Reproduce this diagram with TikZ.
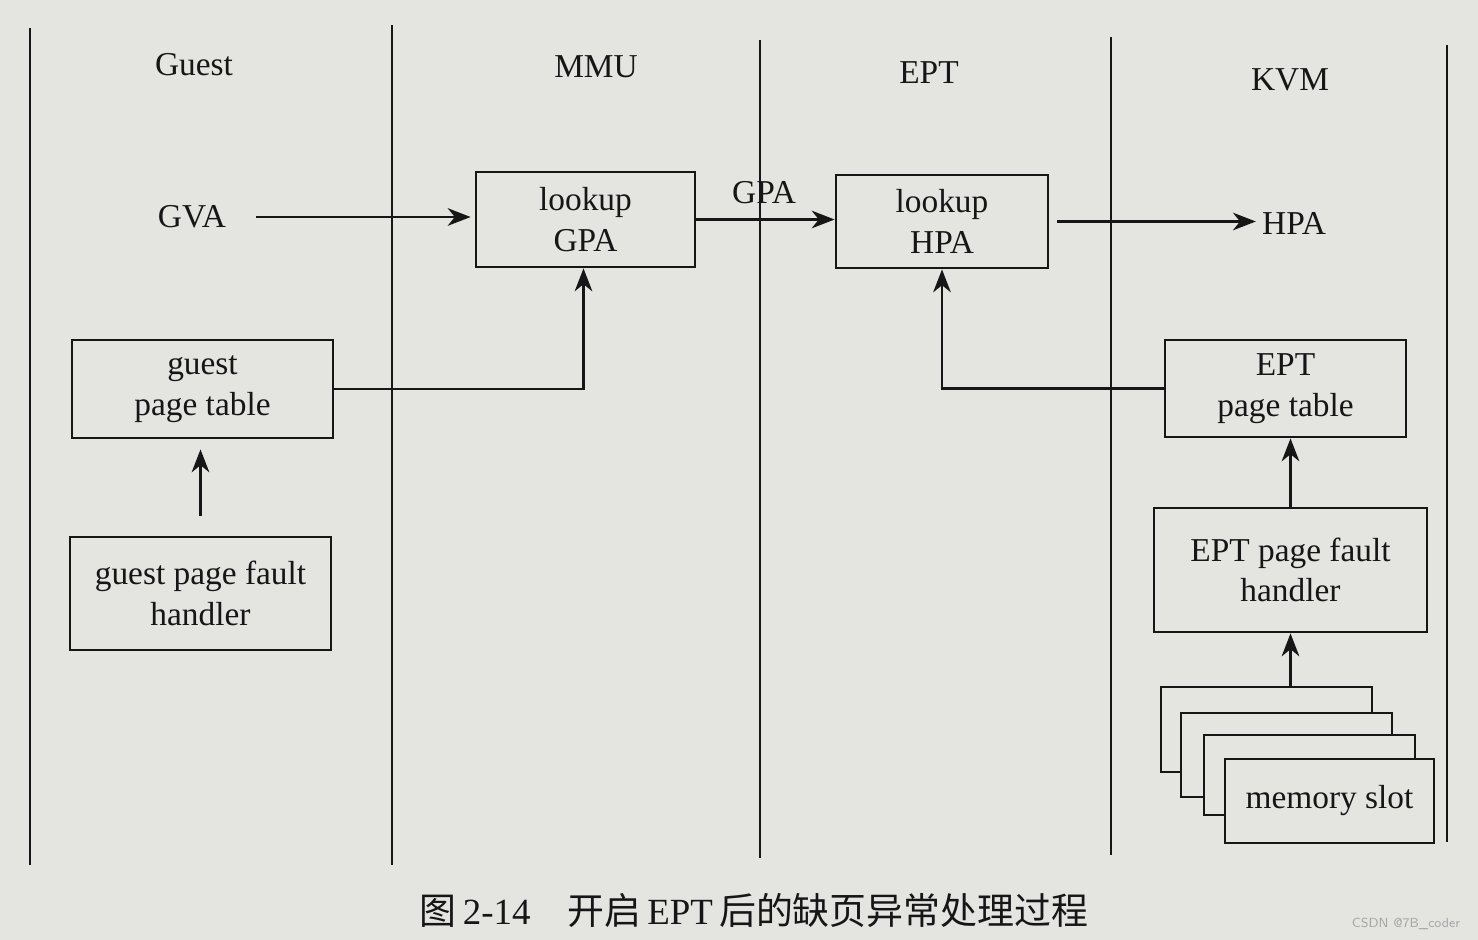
\documentclass[tikz,border=0pt]{standalone}
\usepackage{fontspec}
\setmainfont{Liberation Serif}
\newfontfamily\cjk{Noto Sans CJK SC}
\usetikzlibrary{arrows.meta}
\definecolor{paper}{RGB}{228,228,225}
\definecolor{ink}{RGB}{22,22,22}
\tikzset{
  arr/.style={ink, line width=1.5pt, -{Stealth[length=13pt,width=10pt,inset=4pt]}},
  box/.style={draw=ink, line width=1.6pt, fill=paper, align=center, inner sep=0pt, text=ink},
  lbl/.style={text=ink, inner sep=0pt, align=center},
  lane/.style={ink, line width=1.3pt}
}
\begin{document}
\begin{tikzpicture}[x=0.02cm,y=-0.02cm, font=\fontsize{19}{23}\selectfont]
\fill[paper] (0,0) rectangle (1478,940);
\useasboundingbox (0,0) rectangle (1478,940);
% lanes
\draw[lane] (30,28) -- (30,865);
\draw[lane] (392,25) -- (392,865);
\draw[lane] (760,40) -- (760,858);
\draw[lane] (1111,37) -- (1111,855);
\draw[lane] (1447,45) -- (1447,842);
% headers
\node[lbl] (hguest) at (194,65) {Guest};
\node[lbl] (hmmu) at (596,67) {MMU};
\node[lbl] (hept) at (929,73) {EPT};
\node[lbl] (hkvm) at (1290,80) {KVM};
% boxes
\node[box, minimum width=219*0.02cm, minimum height=95*0.02cm] (lgpa) at (585.5,219.5) {lookup\\GPA};
\node[box, minimum width=212*0.02cm, minimum height=93*0.02cm] (lhpa) at (942,221.5) {lookup\\HPA};
\node[box, minimum width=261*0.02cm, minimum height=98*0.02cm] (gpt) at (202.5,389) {guest\\page table};
\node[box, minimum width=261*0.02cm, minimum height=113*0.02cm] (gpfh) at (200.5,593.5) {guest page fault\\handler};
\node[box, minimum width=241*0.02cm, minimum height=97*0.02cm] (ept) at (1285.5,388.5) {EPT\\page table};
\node[box, minimum width=273*0.02cm, minimum height=124*0.02cm] (epfh) at (1290.5,570) {EPT page fault\\handler};
\node[box, minimum width=211*0.02cm, minimum height=85*0.02cm] (ms1) at (1266.5,729.5) {};
\node[box, minimum width=211*0.02cm, minimum height=84*0.02cm] (ms2) at (1286.5,755) {};
\node[box, minimum width=211*0.02cm, minimum height=80*0.02cm] (ms3) at (1309.5,775) {};
\node[box, minimum width=209*0.02cm, minimum height=84*0.02cm] (ms4) at (1329.5,801) {memory slot};
% address labels
\node[lbl] (gva) at (192,217) {GVA};
\node[lbl] (gpa) at (764,193) {GPA};
\node[lbl] (hpa) at (1294,223) {HPA};
% connectors
\draw[arr, shorten <=30*0.02cm, shorten >=4*0.02cm] (gva.east) -- (gva.east -| lgpa.west);
\draw[arr] (lgpa.east) -- (lgpa.east -| lhpa.west);
\draw[arr, shorten <=8*0.02cm, shorten >=6*0.02cm] (lhpa.east) -- (hpa.west |- lhpa.east);
\draw[arr] (gpt.east) -| ([xshift=-2*0.02cm]lgpa.south);
\draw[arr] (ept.west) -| (lhpa.south);
\draw[arr, shorten <=20*0.02cm, shorten >=10*0.02cm] (gpfh.north) -- (gpfh.north |- gpt.south);
\draw[arr] (epfh.north) -- (epfh.north |- ept.south);
\draw[arr] (epfh.south |- ms1.north) -- (epfh.south);
% caption
\node[lbl, font=\fontsize{21}{25}\selectfont] (cap) at (754,910) {{\cjk 图}\,2-14\hspace{1em}{\cjk 开启}\,EPT\,{\cjk 后的缺页异常处理过程}};
\node[lbl, font=\sffamily\fontsize{7.5}{9}\selectfont, text=gray!70] (wm) at (1406,924) {CSDN @7B\_coder};
\end{tikzpicture}
\end{document}
